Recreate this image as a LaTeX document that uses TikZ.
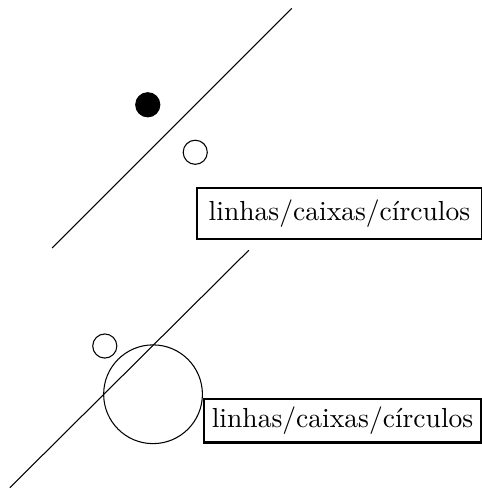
\documentclass[tikz,border=0pt]{standalone}
\usepackage{tikz}
\usetikzlibrary{positioning}

\begin{document}
\begin{tikzpicture}[
    dot/.style={
        circle,
        draw,
        inner sep=0pt,
        minimum size=0.32cm
    },
    bigdot/.style={
        circle,
        draw,
        inner sep=0pt,
        minimum size=1.31cm
    },
    label box/.style={
        draw,
        thick,
        anchor=north west,
        font=\fontsize{10.4pt}{12.5pt}\selectfont
    }
]
\useasboundingbox (0,0) rectangle (6.39,6.50);

% --- parte de cima ---
\coordinate (up start) at (0.69,3.21);
\coordinate (up end) at (3.87,6.39);
\draw (up start) -- (up end);

\node[dot, fill=black] (full) at (1.96,5.11) {};
\node[dot] (empty) at (2.59,4.48) {};

\node[label box, inner sep=4.4pt] (upbox) at (2.60,4.02) {linhas/caixas/círculos};

% --- parte de baixo ---
\coordinate (down start) at (0.13,0.03);
\coordinate (down end) at (3.30,3.18);
\draw (down start) -- (down end);

\node[dot] (small) at (1.39,1.91) {};
\node[bigdot] (big) at (2.03,1.27) {};

\node[label box, inner sep=3pt] (downbox) at (2.69,1.22) {linhas/caixas/círculos};

\end{tikzpicture}
\end{document}
